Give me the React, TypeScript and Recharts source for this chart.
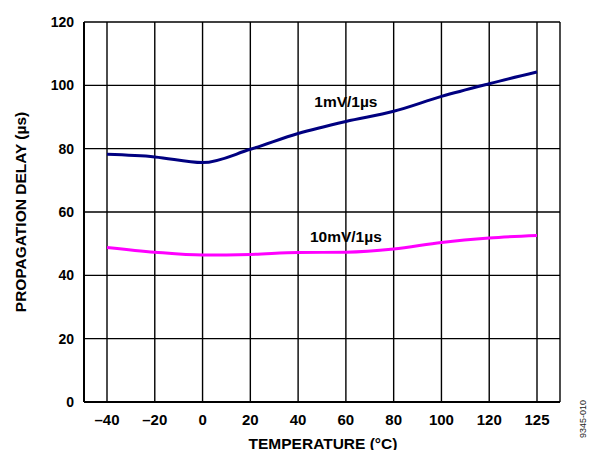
import React from 'react';
import { LineChart, Line, XAxis, YAxis, CartesianGrid, ReferenceDot, Label } from 'recharts';

const temps = [-40, -20, 0, 20, 40, 60, 80, 100, 120, 125];
const tickLabels = ['–40', '–20', '0', '20', '40', '60', '80', '100', '120', '125'];
const slow1mV = [78.2, 77.4, 75.6, 79.8, 84.8, 88.6, 91.8, 96.5, 100.5, 104.2];
const fast10mV = [48.8, 47.3, 46.4, 46.6, 47.2, 47.3, 48.3, 50.4, 51.8, 52.6];
const yTicks = [0, 20, 40, 60, 80, 100, 120];

const data = temps.map((t, i) => ({
  label: tickLabels[i],
  t,
  a: slow1mV[i],
  b: fast10mV[i],
}));

const FONT = '"Liberation Sans", Arial, Helvetica, sans-serif';
const xTickStyle = { fill: '#000', fontSize: 15, fontWeight: 'bold', fontFamily: FONT };
const yTickStyle = { fill: '#000', fontSize: 14, fontWeight: 'bold', fontFamily: FONT };
const pad = { left: 23, right: 23 };

export default function App() {
  return (
    <div style={{ position: 'absolute', left: 0, top: 0, width: 589, height: 450, background: '#fff' }}>
      <LineChart width={589} height={450} data={data} margin={{ top: 22, right: 29, bottom: 0, left: 0 }}>
        <CartesianGrid stroke="#000" strokeWidth={1.4} horizontal vertical />
        <XAxis
          dataKey="label"
          type="category"
          height={48}
          padding={pad}
          tickLine={false}
          tickMargin={6}
          axisLine={{ stroke: '#000', strokeWidth: 2 }}
          tick={xTickStyle}
          interval={0}
        >
          <Label
            content={() => (
              <text x={323} y={443} textAnchor="middle" dominantBaseline="central"
                style={{ fontFamily: FONT, fontSize: 15.5, fontWeight: 'bold', fill: '#000' }}>
                TEMPERATURE (°C)
              </text>
            )}
          />
        </XAxis>
        <XAxis xAxisId="top" dataKey="label" orientation="top" height={0} padding={pad} tick={false} tickLine={false}
          axisLine={{ stroke: '#000', strokeWidth: 2 }} />
        <YAxis
          type="number"
          domain={[0, 120]}
          ticks={yTicks}
          width={84}
          tickLine={false}
          tickMargin={4}
          axisLine={{ stroke: '#000', strokeWidth: 2 }}
          tick={yTickStyle}
        >
          <Label
            content={() => (
              <g>
                <text x={20} y={212} transform="rotate(-90 20 212)" textAnchor="middle" dominantBaseline="central"
                  style={{ fontFamily: FONT, fontSize: 15.5, fontWeight: 'bold', fill: '#000' }}>
                  PROPAGATION DELAY (µs)
                </text>
                <text x={583} y={419} transform="rotate(-90 583 419)" textAnchor="middle" dominantBaseline="central"
                  style={{ fontFamily: FONT, fontSize: 9, fill: '#222' }}>
                  9345-010
                </text>
              </g>
            )}
          />
        </YAxis>
        <YAxis yAxisId="right" orientation="right" type="number" domain={[0, 120]} width={0} tick={false}
          tickLine={false} axisLine={{ stroke: '#000', strokeWidth: 2 }} />
        <Line type="monotone" dataKey="a" stroke="#000080" strokeWidth={3} dot={false} isAnimationActive={false} />
        <Line type="monotone" dataKey="b" stroke="#FF00FF" strokeWidth={3} dot={false} isAnimationActive={false} />
        <ReferenceDot x="60" y={95} r={0} fill="none" stroke="none"
          label={{ value: '1mV/1µs', position: 'center', fill: '#000', fontSize: 15.5, fontWeight: 'bold', fontFamily: FONT }} />
        <ReferenceDot x="60" y={52.4} r={0} fill="none" stroke="none"
          label={{ value: '10mV/1µs', position: 'center', fill: '#000', fontSize: 15.5, fontWeight: 'bold', fontFamily: FONT }} />
      </LineChart>
    </div>
  );
}
